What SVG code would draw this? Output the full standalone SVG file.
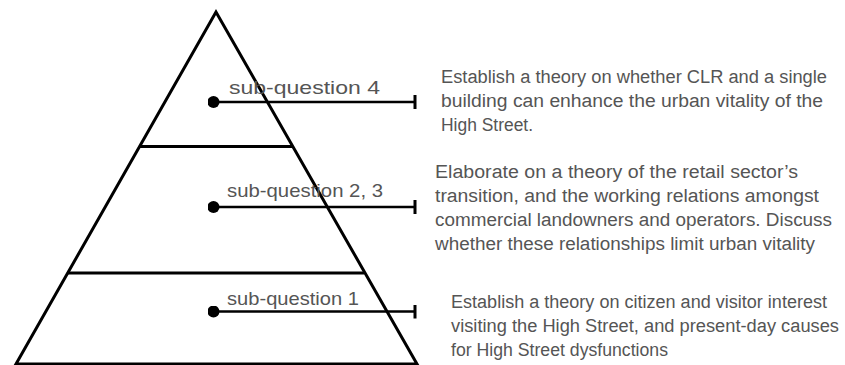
<svg xmlns="http://www.w3.org/2000/svg" width="845" height="365" viewBox="0 0 845 365">
  <defs>
    <marker id="dot" viewBox="0 0 12 12" refX="6" refY="6" markerWidth="12" markerHeight="12" markerUnits="userSpaceOnUse">
      <circle cx="6" cy="6" r="6" fill="#000"/>
    </marker>
    <marker id="tick" viewBox="0 0 4 14" refX="2" refY="7" markerWidth="4" markerHeight="14" markerUnits="userSpaceOnUse">
      <rect x="0.5" y="0" width="3" height="14" fill="#000"/>
    </marker>
  </defs>
  <style>
    .edge { fill: none; stroke: #000; stroke-width: 3; }
    .conn { fill: none; stroke: #000; stroke-width: 2.5; marker-start: url(#dot); marker-end: url(#tick); }
    .label { font-family: "Liberation Sans", Arial, sans-serif; font-size: 19px; fill: #555; }
    .desc { font-family: "Liberation Sans", Arial, sans-serif; font-size: 18px; fill: #555; }
  </style>
  <rect width="845" height="365" fill="#fff"/>
  <g id="pyramid">
    <polygon class="edge" points="216,12 16,364 417,364"/>
    <line class="edge" x1="140" y1="146.5" x2="293" y2="146.5"/>
    <line class="edge" x1="68" y1="273" x2="364" y2="273"/>
  </g>
  <g id="connectors">
    <line class="conn" x1="213.5" y1="102" x2="415" y2="102"/>
    <line class="conn" x1="213.5" y1="207" x2="415" y2="207"/>
    <line class="conn" x1="213.5" y1="311.5" x2="415" y2="311.5"/>
  </g>
  <g id="sq4">
    <text class="label" x="229" y="94" textLength="151" lengthAdjust="spacingAndGlyphs">sub-question 4</text>
    <text class="desc" x="441" y="83" textLength="386" lengthAdjust="spacingAndGlyphs">Establish a theory on whether CLR and a single</text>
    <text class="desc" x="441" y="107" textLength="382" lengthAdjust="spacingAndGlyphs">building can enhance the urban vitality of the</text>
    <text class="desc" x="441" y="131" textLength="92" lengthAdjust="spacingAndGlyphs">High Street.</text>
  </g>
  <g id="sq23">
    <text class="label" x="227" y="197" textLength="156" lengthAdjust="spacingAndGlyphs">sub-question 2, 3</text>
    <text class="desc" x="435" y="178" textLength="363" lengthAdjust="spacingAndGlyphs">Elaborate on a theory of the retail sector’s</text>
    <text class="desc" x="435" y="202" textLength="384" lengthAdjust="spacingAndGlyphs">transition, and the working relations amongst</text>
    <text class="desc" x="435" y="226" textLength="397" lengthAdjust="spacingAndGlyphs">commercial landowners and operators. Discuss</text>
    <text class="desc" x="435" y="250" textLength="380" lengthAdjust="spacingAndGlyphs">whether these relationships limit urban vitality</text>
  </g>
  <g id="sq1">
    <text class="label" x="227" y="305" textLength="132" lengthAdjust="spacingAndGlyphs">sub-question 1</text>
    <text class="desc" x="451" y="308" textLength="376" lengthAdjust="spacingAndGlyphs">Establish a theory on citizen and visitor interest</text>
    <text class="desc" x="451" y="332" textLength="388" lengthAdjust="spacingAndGlyphs">visiting the High Street, and present-day causes</text>
    <text class="desc" x="451" y="356" textLength="217" lengthAdjust="spacingAndGlyphs">for High Street dysfunctions</text>
  </g>
</svg>
